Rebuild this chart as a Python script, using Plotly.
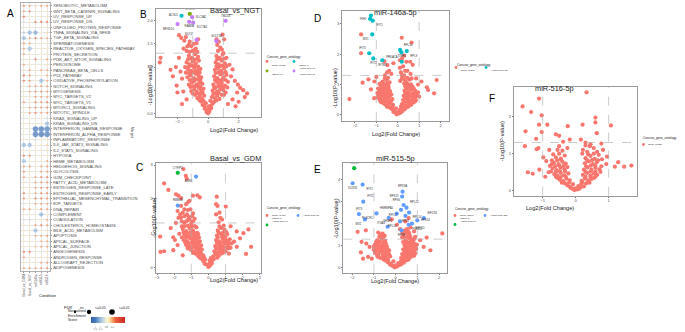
import plotly.graph_objects as go

W, H = 685, 332
FONT = "Liberation Sans, Arial, sans-serif"

# ---------------- Panel A : GSEA hallmark dot plot ----------------
pathways = [
    "XENOBIOTIC_METABOLISM", "WNT_BETA_CATENIN_SIGNALING", "UV_RESPONSE_UP", "UV_RESPONSE_DN",
    "UNFOLDED_PROTEIN_RESPONSE", "TNFA_SIGNALING_VIA_NFKB", "TGF_BETA_SIGNALING", "SPERMATOGENESIS",
    "REACTIVE_OXYGEN_SPECIES_PATHWAY", "PROTEIN_SECRETION", "PI3K_AKT_MTOR_SIGNALING", "PEROXISOME",
    "PANCREAS_BETA_CELLS", "P53_PATHWAY", "OXIDATIVE_PHOSPHORYLATION", "NOTCH_SIGNALING", "MYOGENESIS",
    "MYC_TARGETS_V2", "MYC_TARGETS_V1", "MTORC1_SIGNALING", "MITOTIC_SPINDLE", "KRAS_SIGNALING_UP",
    "KRAS_SIGNALING_DN", "INTERFERON_GAMMA_RESPONSE", "INTERFERON_ALPHA_RESPONSE", "INFLAMMATORY_RESPONSE",
    "IL6_JAK_STAT3_SIGNALING", "IL2_STAT5_SIGNALING", "HYPOXIA", "HEME_METABOLISM", "HEDGEHOG_SIGNALING",
    "GLYCOLYSIS", "G2M_CHECKPOINT", "FATTY_ACID_METABOLISM", "ESTROGEN_RESPONSE_LATE",
    "ESTROGEN_RESPONSE_EARLY", "EPITHELIAL_MESENCHYMAL_TRANSITION", "E2F_TARGETS", "DNA_REPAIR",
    "COMPLEMENT", "COAGULATION", "CHOLESTEROL_HOMEOSTASIS", "BILE_ACID_METABOLISM", "APOPTOSIS",
    "APICAL_SURFACE", "APICAL_JUNCTION", "ANGIOGENESIS", "ANDROGEN_RESPONSE", "ALLOGRAFT_REJECTION",
    "ADIPOGENESIS",
]
conditions = ["Basal_vs_GDM", "Basal_vs_NGT", "miR146a", "miR515", "miR516"]
nes = [
    [1.2, 1.0, 0.5, 1.1, 1.0], [1.1, 1.4, 0.2, 0.1, 0.3], [1.5, 0.1, 0.2, 0.3, 0.2],
    [-0.4, 0.2, 1.4, 1.5, 1.4], [0.2, 0.1, -0.3, 0.2, 0.3], [-1.0, -1.3, -1.5, 0.1, 0.6],
    [-1.2, 1.0, 1.4, 1.1, 1.0], [1.1, 1.0, 0.2, 0.1, 0.3], [1.0, -1.1, 0.1, 0.3, 0.2],
    [1.0, 0.2, 0.1, 0.2, 0.3], [0.3, 0.2, 1.4, 0.3, 1.0], [1.0, 0.3, 0.2, 0.1, 0.4],
    [0.3, 1.0, 0.2, 1.0, 0.9], [1.4, 1.1, 0.3, 0.2, 0.9], [1.4, 1.2, 0.2, -1.2, 1.0],
    [0.2, 1.0, 1.1, 1.1, 1.0], [0.3, 1.0, 1.3, 1.3, 1.1], [0.2, 0.3, 1.1, 1.0, 1.0],
    [1.0, 0.3, 1.3, 1.1, 1.3], [0.3, 1.0, 1.3, 1.1, 1.3], [0.2, 1.1, 1.3, 1.0, 1.1],
    [-0.3, 0.1, 0.2, 0.2, -0.6], [0.2, 0.3, 0.1, 0.3, -1.2], [0.1, -0.2, -2.1, -2.2, -2.0],
    [0.1, -0.2, -2.2, -2.3, -2.1], [0.2, 0.1, -0.4, 0.2, 0.3], [-1.2, -1.2, 0.2, 0.2, 0.6],
    [0.2, 0.1, 0.1, 0.3, 0.4], [1.4, 1.3, 0.2, 0.1, 0.3], [-1.1, 0.2, 0.1, 0.3, 1.0],
    [1.0, 1.1, 0.3, 1.0, 1.1], [1.1, 0.3, 0.2, 1.0, 1.0], [1.0, 0.3, 1.0, 1.3, 1.3],
    [0.3, 0.2, 1.0, 1.1, 1.1], [0.3, 0.2, 1.1, 1.3, 1.3], [1.3, 0.3, 1.0, 1.3, 1.2],
    [1.1, 0.2, 1.3, 1.3, 1.1], [-0.3, 0.2, 1.0, 1.1, 1.0], [1.0, 1.0, 0.3, 1.1, 1.0],
    [0.2, 0.1, 0.2, -1.3, 0.3], [-0.4, -0.5, 0.2, 0.2, 0.9], [0.3, 0.2, 1.0, 1.3, 1.0],
    [0.2, 0.3, -1.2, 0.2, 0.3], [0.3, 0.2, 1.0, 1.0, 1.2], [0.2, 0.3, 0.2, 0.9, 1.0],
    [0.3, 0.2, 0.7, 1.0, 1.0], [1.4, 1.4, 0.2, -0.2, 0.3], [1.0, 0.3, 0.2, 0.3, 0.4],
    [0.2, 0.2, 0.3, 1.0, 1.1], [1.0, 1.0, 1.0, 1.1, 1.2],
]
# 0 = ns, 1 = <=0.05, 2 = <=0.01
fdr = [[0] * 5 for _ in range(50)]
fdr_sig = {
    "TNFA_SIGNALING_VIA_NFKB": [0, 1, 1, 0, 0], "TGF_BETA_SIGNALING": [1, 0, 0, 0, 0],
    "REACTIVE_OXYGEN_SPECIES_PATHWAY": [0, 1, 0, 0, 0], "OXIDATIVE_PHOSPHORYLATION": [0, 0, 0, 1, 0],
    "KRAS_SIGNALING_DN": [0, 0, 0, 0, 1], "INTERFERON_GAMMA_RESPONSE": [0, 0, 2, 2, 2],
    "INTERFERON_ALPHA_RESPONSE": [0, 0, 2, 2, 2], "IL6_JAK_STAT3_SIGNALING": [1, 1, 0, 0, 0],
    "HEME_METABOLISM": [1, 0, 0, 0, 0], "COMPLEMENT": [0, 0, 0, 1, 0], "BILE_ACID_METABOLISM": [0, 0, 1, 0, 0],
}
for name, row in fdr_sig.items():
    fdr[pathways.index(name)] = row
fdr_labels = ["ns", "&lt;=0.05", "&lt;=0.01"]
nes_ticks = [-2, -1, 0, 1]

# ---------------- Volcano data ----------------
p_cut = 1.3      # -log10(0.05)
fc_cut = 1.0

b_none = [
    (-3.1, 1.2), (-3.15, 1.1), (-2.45, 0.94), (-2.05, 0.6), (-1.62, 0.47), (-1.9, 1.69), (-1.75, 1.63),
    (-1.55, 1.57), (-1.45, 1.65), (-1.2, 1.55), (-1.35, 1.45), (-1.6, 1.4), (-1.1, 1.45), (-1.0, 1.35),
    (-1.9, 1.2), (-2.1, 1.0), (-2.3, 0.8), (-1.8, 0.9), (-1.7, 0.75), (-2.0, 0.45), (-1.4, 0.3), (-1.7, 0.2),
    (-0.8, 1.4), (-0.65, 1.6), (0.55, 1.6), (0.7, 1.55), (0.95, 1.7), (1.05, 1.6), (0.8, 1.42), (1.0, 1.3),
    (1.2, 1.2), (1.4, 1.05), (1.6, 0.95), (1.5, 0.8), (1.75, 0.7), (1.95, 0.62), (2.1, 0.55), (2.3, 0.5),
    (2.55, 0.43), (2.4, 0.35), (1.9, 0.45), (1.6, 0.3), (2.0, 0.25), (1.3, 0.2), (1.8, 0.15),
    (-0.1, 0.03), (0.0, 0.0), (0.08, 0.04), (-0.05, 0.08), (0.12, 0.09), (-0.22, 0.1), (0.2, 0.11),
    (-0.35, 0.18), (-0.22, 0.15), (-0.15, 0.22), (0.18, 0.16), (0.3, 0.21), (0.4, 0.25), (-0.45, 0.25), (0.05, 0.15),
    (-0.55, 0.28), (-0.3, 0.27), (0.15, 0.27), (0.55, 0.28),
    (-0.7, 0.33), (-0.55, 0.36), (-0.4, 0.32), (-0.25, 0.38), (0.25, 0.35), (0.45, 0.33), (0.6, 0.38), (0.75, 0.31),
    (-0.85, 0.4), (0.9, 0.4), (-1.0, 0.43), (-0.65, 0.43), (-0.5, 0.42), (-0.35, 0.44), (0.35, 0.42), (0.5, 0.43),
    (0.7, 0.44), (1.05, 0.4),
    (-1.1, 0.48), (-0.9, 0.52), (-0.75, 0.47), (-0.6, 0.55), (-0.45, 0.5), (-0.3, 0.53), (0.3, 0.49), (0.45, 0.54),
    (0.6, 0.47), (0.8, 0.52), (1.0, 0.5), (1.15, 0.45),
    (-1.15, 0.57), (-0.95, 0.58), (-0.82, 0.59), (-0.65, 0.6), (-0.5, 0.58), (0.4, 0.57), (0.65, 0.58), (0.85, 0.59),
    (1.0, 0.57), (1.25, 0.56),
    (-1.25, 0.62), (-1.05, 0.66), (-0.9, 0.7), (-0.75, 0.62), (-0.55, 0.67), (-0.38, 0.64), (0.35, 0.62), (0.55, 0.68),
    (0.7, 0.63), (0.9, 0.66), (1.1, 0.6), (1.3, 0.68),
    (-1.2, 0.72), (-1.0, 0.73), (-0.85, 0.74), (-0.65, 0.73), (-0.5, 0.72), (0.45, 0.72), (0.65, 0.73), (0.8, 0.71),
    (0.95, 0.73), (1.15, 0.72),
    (-1.35, 0.78), (-1.15, 0.82), (-0.95, 0.76), (-0.8, 0.85), (-0.6, 0.8), (-0.45, 0.78), (0.4, 0.8), (0.6, 0.76),
    (0.8, 0.84), (1.0, 0.78), (1.2, 0.83),
    (-1.45, 0.88), (-1.25, 0.87), (-1.05, 0.88), (-0.85, 0.9), (-0.65, 0.87), (-0.55, 0.88), (0.5, 0.87), (0.7, 0.89),
    (0.95, 0.87), (1.15, 0.89),
    (-1.3, 0.95), (-1.1, 0.92), (-0.9, 0.98), (-0.7, 0.93), (-0.5, 0.96), (0.45, 0.94), (0.65, 0.98), (0.85, 0.92),
    (1.05, 0.97),
    (-1.5, 1.0), (-1.25, 1.01), (-1.05, 1.03), (-0.85, 1.02), (-0.65, 1.01), (0.55, 1.02), (0.75, 1.01), (0.95, 1.03),
    (1.2, 1.02),
    (-1.4, 1.1), (-1.2, 1.06), (-1.0, 1.12), (-0.8, 1.08), (-0.6, 1.14), (0.5, 1.1), (0.7, 1.06), (0.9, 1.14), (1.1, 1.08),
    (-1.3, 1.17), (-1.1, 1.18), (-0.9, 1.16), (-0.7, 1.18), (0.6, 1.17), (0.85, 1.16), (1.05, 1.18),
    (-1.25, 1.25), (-1.05, 1.2), (-0.85, 1.28), (-0.65, 1.22), (0.55, 1.24), (0.75, 1.2), (0.95, 1.27),
    (-1.4, 1.35), (-1.2, 1.33), (-0.9, 1.37), (-0.7, 1.33), (0.65, 1.35), (0.9, 1.38),
    (-1.25, 1.48), (-0.95, 1.5), (-0.75, 1.52), (0.6, 1.48),
]
b_genes = ["UHMK1", "ACSL5", "SLC3A2", "MFSD10", "RAB8A", "SLC7A5", "TM2D3", "NQO2", "GOLT1B"]
b_x = [-1.19, -1.73, -1.04, -1.99, -1.23, -0.97, 1.15, -0.75, 0.55]
b_y = [2.15, 2.11, 2.08, 1.93, 1.98, 1.96, 2.0, 1.59, 1.56]
b_group = ["Insulin", "Insulin & Amino acid"] + ["Amino acid"] * 7
b_counts = {"None": 1423, "Insulin & Amino acid": 1, "Insulin": 1, "Amino acid": 7}

c_none = [
    (-1.46, 2.88), (-2.59, 2.46), (-2.34, 2.27), (-1.32, 2.68), (-1.26, 2.6), (-1.89, 2.14), (-1.75, 2.1),
    (-1.6, 2.03), (-1.17, 1.92), (-0.64, 2.11), (-0.5, 2.05), (0.49, 2.07), (0.45, 1.85), (0.54, 1.8),
    (1.02, 1.78), (2.34, 1.11), (1.66, 1.05), (2.05, 1.0), (1.85, 0.85), (2.2, 0.39), (1.66, 0.6),
    (-2.82, 0.9), (-2.8, 0.45), (-2.59, 0.47), (-2.05, 0.5), (-1.95, 0.8), (-2.05, 0.88), (-1.7, 0.98),
    (-1.55, 1.2), (-1.9, 1.3), (-2.2, 1.15), (-1.75, 1.45), (-1.1, 1.95), (-0.9, 2.1), (1.3, 1.2), (1.5, 0.75),
    (1.2, 0.4), (-1.5, 0.35), (-1.8, 0.65), (2.5, 0.6),
    (0.0, 0.01), (0.1, 0.05), (-0.12, 0.08), (0.05, 0.1), (-0.22, 0.1), (0.2, 0.11),
    (-0.3, 0.18), (-0.18, 0.22), (0.2, 0.17), (0.32, 0.24), (-0.42, 0.25), (0.08, 0.2),
    (-0.5, 0.28), (0.15, 0.27), (0.52, 0.28), (-0.25, 0.28),
    (-0.6, 0.33), (-0.45, 0.38), (-0.3, 0.35), (0.28, 0.32), (0.45, 0.38), (0.6, 0.33), (-0.75, 0.4), (0.75, 0.4),
    (-0.9, 0.42), (-0.6, 0.43), (-0.45, 0.44), (0.4, 0.42), (0.55, 0.43), (0.85, 0.42),
    (-1.0, 0.5), (-0.85, 0.46), (-0.7, 0.53), (-0.55, 0.48), (-0.38, 0.52), (0.35, 0.47), (0.5, 0.54), (0.68, 0.49),
    (0.85, 0.53), (1.0, 0.47), (-1.2, 0.55), (1.15, 0.55),
    (-1.2, 0.58), (-1.0, 0.57), (-0.8, 0.59), (-0.65, 0.6), (-0.5, 0.58), (0.45, 0.57), (0.65, 0.58), (0.85, 0.6),
    (1.05, 0.58), (1.3, 0.57),
    (-1.3, 0.65), (-1.1, 0.62), (-0.92, 0.68), (-0.75, 0.63), (-0.58, 0.7), (-0.42, 0.64), (0.4, 0.62), (0.58, 0.68),
    (0.75, 0.63), (0.95, 0.69), (1.15, 0.64), (1.35, 0.7),
    (-1.35, 0.72), (-1.15, 0.71), (-0.95, 0.74), (-0.78, 0.72), (-0.6, 0.73), (0.5, 0.72), (0.7, 0.71), (0.9, 0.74),
    (1.15, 0.72),
    (-1.45, 0.8), (-1.25, 0.77), (-1.05, 0.84), (-0.88, 0.78), (-0.7, 0.82), (-0.5, 0.76), (0.45, 0.8), (0.65, 0.76),
    (0.85, 0.83), (1.05, 0.78), (1.25, 0.82),
    (-1.55, 0.88), (-1.3, 0.87), (-1.1, 0.89), (-0.9, 0.87), (-0.72, 0.88), (-0.55, 0.87), (0.55, 0.87), (0.8, 0.89),
    (1.0, 0.87),
    (-1.4, 0.95), (-1.2, 0.92), (-1.0, 0.98), (-0.8, 0.93), (-0.6, 0.97), (0.5, 0.93), (0.7, 0.98), (0.9, 0.92), (1.1, 0.97),
    (-1.45, 1.02), (-1.25, 1.01), (-1.05, 1.03), (-0.85, 1.02), (-0.65, 1.01), (0.6, 1.02), (0.85, 1.01), (1.05, 1.03),
    (-1.5, 1.12), (-1.3, 1.06), (-1.1, 1.15), (-0.9, 1.08), (-0.7, 1.17), (0.55, 1.08), (0.75, 1.15), (0.95, 1.1),
    (-1.4, 1.2), (-1.2, 1.22), (-1.0, 1.19), (-0.8, 1.21), (0.65, 1.2), (0.9, 1.22),
    (-1.4, 1.3), (-1.2, 1.38), (-1.0, 1.28), (-0.8, 1.42), (0.6, 1.32), (0.8, 1.4), (-1.6, 1.45),
    (-1.55, 1.35), (-1.3, 1.35), (-1.1, 1.4), (-0.9, 1.35), (0.7, 1.45),
    (-1.4, 1.5), (-1.15, 1.48), (-0.95, 1.5), (-1.65, 1.55),
    (-1.5, 1.6), (-1.25, 1.55), (-1.05, 1.7), (-0.9, 1.58), (-1.8, 1.65), (0.65, 1.6), (0.45, 1.55),
    (-1.4, 1.7), (-1.2, 1.68), (-1.6, 1.8), (-1.3, 1.85),
]
c_genes = ["CYFIP2", "ASNS", "RBM4B"]
c_x = [-1.79, -0.72, -1.79]
c_y = [2.77, 2.66, 1.81]
c_group = ["Insulin & Amino acid", "Amino acid", "Amino acid"]
c_counts = {"None": 1429, "Amino acid": 2, "Insulin & Amino acid": 1}

d_none = [
    (-1.71, 2.65), (-1.71, 2.03), (0.19, 2.54), (0.65, 2.38), (-0.48, 1.64), (-0.2, 1.7), (0.58, 1.75),
    (0.7, 1.65), (-1.37, 1.17), (-1.64, 1.06), (-1.09, 1.1), (-1.25, 0.84), (-2.26, 0.52), (1.82, 1.15),
    (1.36, 0.91), (1.42, 0.82), (1.7, 0.71), (1.11, 1.1), (0.86, 1.2), (0.95, 1.0), (-0.75, 0.88), (-0.9, 0.72),
    (-0.75, 1.05), (0.2, 1.85), (0.3, 1.95), (0.1, 1.8), (-0.62, 1.76), (-1.0, 1.25), (1.0, 0.6), (-1.1, 0.55),
    (0.4, 1.75), (-0.4, 1.45),
    (-0.05, 0.02), (0.05, 0.05), (0.0, 0.09), (-0.12, 0.08), (0.12, 0.07), (-0.2, 0.1), (0.2, 0.11),
    (-0.3, 0.2), (-0.18, 0.15), (-0.08, 0.22), (0.1, 0.17), (0.22, 0.23), (0.32, 0.18), (-0.4, 0.25), (0.42, 0.25),
    (-0.5, 0.27), (0.15, 0.28), (0.5, 0.28), (-0.25, 0.27),
    (-0.6, 0.35), (-0.48, 0.31), (-0.35, 0.38), (-0.22, 0.33), (0.2, 0.36), (0.35, 0.31), (0.5, 0.38), (0.62, 0.33),
    (-0.72, 0.4), (0.72, 0.4),
    (-0.8, 0.43), (-0.6, 0.43), (-0.45, 0.42), (-0.32, 0.44), (0.3, 0.42), (0.45, 0.43), (0.6, 0.42), (0.8, 0.44),
    (-0.85, 0.5), (-0.7, 0.47), (-0.55, 0.53), (-0.4, 0.48), (-0.25, 0.52), (0.25, 0.49), (0.4, 0.54), (0.55, 0.47),
    (0.7, 0.52), (0.85, 0.48),
    (-0.95, 0.58), (-0.8, 0.57), (-0.65, 0.59), (-0.5, 0.58), (-0.38, 0.6), (0.35, 0.57), (0.5, 0.58), (0.68, 0.59),
    (0.82, 0.58),
    (-0.9, 0.65), (-0.75, 0.62), (-0.6, 0.68), (-0.45, 0.63), (-0.3, 0.67), (0.28, 0.63), (0.45, 0.68), (0.6, 0.62),
    (0.75, 0.67), (0.9, 0.64),
    (-0.95, 0.72), (-0.8, 0.73), (-0.65, 0.72), (-0.5, 0.74), (-0.38, 0.72), (0.35, 0.72), (0.5, 0.73), (0.68, 0.71),
    (0.82, 0.73), (0.95, 0.74),
    (-0.85, 0.8), (-0.68, 0.77), (-0.52, 0.83), (-0.36, 0.78), (0.32, 0.8), (0.5, 0.76), (0.65, 0.83), (0.82, 0.79),
    (-0.92, 0.87), (-0.72, 0.88), (-0.58, 0.87), (-0.42, 0.89), (0.42, 0.87), (0.58, 0.88), (0.75, 0.87),
    (-0.78, 0.95), (-0.6, 0.92), (-0.45, 0.98), (0.35, 0.94), (0.52, 0.97), (0.7, 0.92),
    (-0.85, 1.02), (-0.65, 1.01), (-0.5, 1.03), (0.45, 1.02), (0.62, 1.01), (0.3, 1.03),
    (-0.7, 1.1), (-0.52, 1.15), (-0.38, 1.07), (0.38, 1.1), (0.55, 1.16), (0.12, 1.12), (0.2, 1.2),
    (-0.6, 1.2), (-0.45, 1.22), (0.3, 1.17), (0.45, 1.22), (0.65, 1.2),
    (-0.6, 1.3), (-0.3, 1.35), (0.15, 1.4), (0.3, 1.3), (0.45, 1.45), (0.6, 1.35), (0.1, 1.55), (0.25, 1.6),
    (-0.5, 1.4), (0.35, 1.45), (0.2, 1.3),
]
d_genes = ["ISG15", "IFIH1", "IFIT1", "MX1", "IFIT3", "IFIT2", "IFITM1", "RPL10", "PRKACA", "RPL9", "TIMP1"]
d_x = [-1.25, -1.29, -1.17, -1.19, -1.33, -1.14, -0.72, 0.11, 0.17, 0.42, 0.19]
d_y = [3.27, 3.16, 3.1, 2.65, 2.03, 1.86, 1.8, 2.14, 2.06, 2.1, 1.75]
d_group = ["Amino acid"] * 11
d_counts = {"None": 1321, "Amino acid": 11}

e_none = [
    (-1.75, 1.63), (-1.37, 1.7), (-1.57, 1.18), (-1.5, 0.42), (-1.27, 0.5), (-1.1, 0.42), (-0.99, 0.8),
    (-1.2, 0.95), (-1.35, 1.1), (-0.87, 1.15), (-0.62, 1.45), (-0.18, 2.19), (0.06, 1.95), (-0.26, 2.2),
    (2.15, 1.56), (1.43, 1.37), (1.13, 1.25), (1.29, 0.95), (0.98, 1.05), (0.85, 1.65), (0.68, 1.83),
    (0.52, 1.75), (0.2, 1.75), (0.6, 2.25), (0.45, 2.1), (0.9, 1.4), (-0.8, 1.6), (1.6, 0.8), (-1.6, 0.7),
    (-0.05, 0.03), (0.05, 0.06), (0.0, 0.12), (-0.15, 0.1), (0.15, 0.12), (-0.25, 0.15), (0.25, 0.16),
    (-0.35, 0.25), (-0.22, 0.2), (-0.1, 0.3), (0.12, 0.22), (0.25, 0.3), (0.38, 0.24), (-0.45, 0.33), (0.5, 0.35),
    (-0.55, 0.38), (-0.35, 0.37), (0.35, 0.38), (0.6, 0.38),
    (-0.7, 0.45), (-0.55, 0.5), (-0.4, 0.43), (-0.25, 0.52), (0.25, 0.45), (0.4, 0.52), (0.55, 0.44), (0.7, 0.5),
    (-0.85, 0.55), (0.85, 0.55), (-0.8, 0.5),
    (-0.6, 0.58), (-0.45, 0.57), (-0.3, 0.6), (0.35, 0.58), (0.5, 0.57), (0.65, 0.59), (0.8, 0.6),
    (-0.95, 0.68), (-0.8, 0.62), (-0.65, 0.72), (-0.5, 0.64), (-0.35, 0.7), (0.3, 0.63), (0.45, 0.7), (0.6, 0.65),
    (0.75, 0.72), (0.9, 0.66),
    (-0.9, 0.77), (-0.75, 0.76), (-0.6, 0.78), (-0.45, 0.77), (-0.3, 0.79), (0.4, 0.77), (0.55, 0.76), (0.7, 0.78),
    (0.85, 0.77),
    (-1.0, 0.85), (-0.85, 0.9), (-0.7, 0.83), (-0.55, 0.92), (-0.4, 0.86), (0.35, 0.84), (0.5, 0.9), (0.65, 0.83),
    (0.8, 0.92), (0.95, 0.86),
    (-1.0, 0.97), (-0.85, 0.96), (-0.7, 0.97), (-0.55, 0.98), (-0.4, 0.97), (0.45, 0.96), (0.6, 0.97), (0.75, 0.98),
    (0.9, 0.96),
    (-0.95, 1.05), (-0.8, 1.12), (-0.62, 1.03), (-0.45, 1.1), (0.4, 1.05), (0.55, 1.12), (0.7, 1.04), (0.85, 1.1),
    (-0.9, 1.17), (-0.72, 1.18), (-0.55, 1.17), (0.5, 1.18), (0.65, 1.17), (0.8, 1.16), (0.35, 1.17),
    (-0.85, 1.25), (-0.65, 1.32), (-0.48, 1.22), (0.45, 1.25), (0.6, 1.35), (0.75, 1.22), (0.3, 1.38),
    (-0.75, 1.4), (-0.58, 1.38), (0.4, 1.38), (0.55, 1.42), (0.7, 1.35), (0.85, 1.3),
    (-0.7, 1.5), (-0.5, 1.45), (0.35, 1.5), (0.5, 1.58), (0.65, 1.48), (0.4, 1.68), (0.55, 1.7),
    (-0.6, 1.55), (0.45, 1.6), (0.62, 1.58), (0.3, 1.62),
]
e_genes = ["ISG15", "DDX58", "IFIT1", "IFIT2", "IFIT3", "MX1", "PLSCR1", "ITGA4", "SRSF1", "RPS3A", "RPS25",
           "RPS6", "RPL22", "RPL17", "RPL14", "HNRNPA1", "RPL8", "RPS14", "EIF2S3", "EEF1D", "RPL10", "PSMD4",
           "RPS8"]
e_x = [-1.91, -1.98, -1.52, -1.49, -1.69, -1.41, -0.88, -0.32, -0.37, 0.32, 0.30, 0.37, 0.50, 0.25, 0.62,
       0.05, 0.45, 1.0, 1.3, 0.75, 0.2, 0.6, 0.27]
e_y = [4.5, 3.82, 3.76, 2.99, 2.43, 2.19, 2.46, 2.26, 1.86, 3.44, 3.22, 2.84, 2.72, 2.62, 2.5, 2.45, 2.35,
       2.15, 2.25, 2.0, 2.1, 1.95, 1.7]
e_group = ["Insulin & Amino acid"] + ["Amino acid"] * 22
e_counts = {"None": 1209, "Amino acid": 22, "Insulin & Amino acid": 1}

f_none = [
    (0.33, 2.65), (-1.61, 2.27), (-1.11, 2.48), (-1.35, 2.12), (-1.03, 2.03), (-1.11, 1.78), (-0.86, 1.78),
    (-1.03, 1.58), (-1.52, 1.6), (-1.2, 1.4), (-1.54, 1.2), (-1.13, 1.15), (-1.18, 1.12), (-0.6, 1.52),
    (-0.5, 1.48), (-0.24, 1.74), (0.21, 1.78), (0.6, 1.97), (0.6, 1.84), (0.64, 1.55), (1.07, 1.76),
    (0.16, 1.38), (0.3, 1.3), (0.43, 1.2), (0.78, 1.27), (0.95, 0.92), (1.19, 0.65), (1.29, 0.77),
    (1.47, 0.65), (1.69, 0.68), (0.93, 0.72), (0.83, 1.1), (-1.45, 0.5), (-1.3, 0.46), (-1.1, 0.57),
    (-0.92, 0.38), (-0.82, 0.5), (-0.89, 0.8), (-0.72, 0.72), (-0.98, 0.9), (-0.55, 1.1), (-0.8, 1.1),
    (-0.38, 1.32), (-0.18, 1.38),
    (-0.04, 0.02), (0.04, 0.04), (0.0, 0.07), (-0.1, 0.06), (0.1, 0.05), (-0.15, 0.08), (0.15, 0.09),
    (-0.25, 0.15), (-0.17, 0.11), (-0.08, 0.18), (0.08, 0.13), (0.17, 0.19), (0.25, 0.12), (-0.32, 0.2), (0.32, 0.2),
    (-0.42, 0.22), (-0.2, 0.22), (0.2, 0.23), (0.42, 0.22),
    (-0.48, 0.3), (-0.38, 0.26), (-0.28, 0.33), (-0.18, 0.28), (0.18, 0.27), (0.28, 0.33), (0.38, 0.28), (0.48, 0.32),
    (-0.56, 0.35), (0.56, 0.35),
    (-0.6, 0.38), (-0.45, 0.37), (-0.3, 0.38), (0.3, 0.38), (0.45, 0.37), (0.6, 0.38),
    (-0.65, 0.45), (-0.55, 0.41), (-0.45, 0.48), (-0.35, 0.42), (-0.22, 0.47), (0.22, 0.43), (0.35, 0.48), (0.45, 0.41),
    (0.55, 0.47), (0.65, 0.43),
    (-0.75, 0.52), (-0.6, 0.51), (-0.48, 0.53), (-0.32, 0.52), (0.3, 0.51), (0.45, 0.52), (0.6, 0.52), (0.75, 0.51),
    (-0.7, 0.6), (-0.58, 0.56), (-0.46, 0.63), (-0.34, 0.58), (-0.25, 0.64), (0.25, 0.57), (0.36, 0.63), (0.48, 0.57),
    (0.6, 0.62), (0.72, 0.58),
    (-0.78, 0.67), (-0.62, 0.66), (-0.5, 0.68), (-0.36, 0.67), (0.32, 0.66), (0.46, 0.68), (0.6, 0.67), (0.78, 0.66),
    (-0.66, 0.75), (-0.52, 0.72), (-0.4, 0.78), (-0.3, 0.73), (0.28, 0.74), (0.4, 0.79), (0.52, 0.72), (0.64, 0.77),
    (-0.72, 0.82), (-0.56, 0.82), (-0.44, 0.83), (0.35, 0.82), (0.5, 0.83), (0.68, 0.82), (0.8, 0.85),
    (-0.6, 0.9), (-0.45, 0.87), (-0.33, 0.95), (0.3, 0.88), (0.45, 0.94), (0.58, 0.86), (0.7, 0.97), (0.2, 1.0),
    (-0.68, 0.98), (-0.5, 1.0), (0.38, 0.98), (0.55, 1.0), (0.65, 1.05),
    (-0.4, 1.08), (-0.25, 1.15), (0.22, 1.1), (0.35, 1.05), (0.55, 1.15),
    (-0.5, 1.2), (0.3, 1.22), (0.45, 1.25),
]
f_counts = {"None": 1332}

# ---------------- styles / layout ----------------
def px(x):
    return x / W


def py(y):
    return 1 - y / H


RED = "#F8766D"
AXIS_COL = "#4d4d4d"
PT = 4.2
fig = go.Figure()
annotations = []
shapes = []

# ----- Panel A -----
size_map = [2.3, 4.3, 5.6]
ax_x, ax_y, ax_c, ax_s = [], [], [], []
for i, pw in enumerate(pathways):
    for j, cond in enumerate(conditions):
        ax_x.append(cond)
        ax_y.append(pw)
        ax_c.append(nes[i][j])
        ax_s.append(size_map[fdr[i][j]])

nes_scale = [
    [0.0, "#2f5fa7"], [0.133, "#4a7cbc"], [0.3, "#a6c6e4"], [0.467, "#fbf8d2"],
    [0.55, "#fde0a8"], [0.633, "#f7a066"], [0.717, "#ec6240"], [1.0, "#c8231f"],
]
fig.add_trace(go.Scatter(
    x=ax_x, y=ax_y, mode="markers", xaxis="x", yaxis="y", hoverinfo="skip",
    marker=dict(size=ax_s, color=ax_c, colorscale=nes_scale, cmin=-2.8, cmax=3.2, line=dict(width=0),
                showscale=True,
                colorbar=dict(orientation="h", x=px(108), xanchor="center", y=py(322), yanchor="middle",
                              len=34, lenmode="pixels", thickness=5.5, thicknessmode="pixels",
                              xpad=0, ypad=0, outlinewidth=0, tickvals=nes_ticks, ticks="",
                              tickfont=dict(size=3.6, color=AXIS_COL, family=FONT))),
    showlegend=False))

layout_axes = dict(
    xaxis=dict(domain=[px(21), px(50)], type="category", categoryorder="array", categoryarray=conditions,
               range=[-0.5, 4.5], anchor="y", tickangle=-90, tickfont=dict(size=3.2, color=AXIS_COL, family=FONT),
               showgrid=True, gridcolor="#e6e6e6", gridwidth=0.6, showline=True, mirror=True,
               linecolor="#b0b0b0", linewidth=0.8, ticks="outside", ticklen=1.5, tickcolor="#999", automargin=False,
               zeroline=False),
    yaxis=dict(domain=[py(270.7), py(3.3)], type="category", categoryorder="array", categoryarray=pathways,
               range=[49.5, -0.5], anchor="x", side="right", tickfont=dict(size=4.1, color=AXIS_COL, family=FONT),
               showgrid=True, gridcolor="#e6e6e6", gridwidth=0.6, showline=True, mirror=True,
               linecolor="#b0b0b0", linewidth=0.8, ticks="outside", ticklen=1.5, tickcolor="#999", automargin=False,
               zeroline=False),
)

annotations.append(dict(text="Condition", x=px(37), y=py(300), xref="paper", yref="paper", showarrow=False,
                        font=dict(size=4, color="#222", family=FONT)))
annotations.append(dict(text="Merged", x=px(128), y=py(132), xref="paper", yref="paper", showarrow=False,
                        textangle=90, font=dict(size=3.3, color="#222", family=FONT)))
# FDR legend
annotations.append(dict(text="FDR", x=px(62), y=py(312), xref="paper", yref="paper", showarrow=False,
                        xanchor="left", font=dict(size=4, color="#222", family=FONT)))
fdr_key_x = [75, 89, 112]
fdr_txt_x = [78, 93, 117]
for k in range(3):
    r = size_map[k] / 2
    shapes.append(dict(type="circle", xref="paper", yref="paper", x0=px(fdr_key_x[k] - r), x1=px(fdr_key_x[k] + r),
                       y0=py(312 + r), y1=py(312 - r), fillcolor="black", line=dict(width=0)))
    annotations.append(dict(text=fdr_labels[k], x=px(fdr_txt_x[k]), y=py(312), xref="paper", yref="paper",
                            showarrow=False, xanchor="left", font=dict(size=3.4, color="#222", family=FONT)))
annotations.append(dict(text="Normalised<br>Enrichment<br>Score", x=px(88), y=py(324), xref="paper", yref="paper",
                        showarrow=False, xanchor="right", align="left",
                        font=dict(size=3.5, color="#222", family=FONT)))

# ----- Volcano panels -----
panels = [
    dict(letter="B", title="Basal_vs_NGT", ax=2, box=(155.7, 9.3, 260.7, 117.0), xr=(-3.42, 3.44), yr=(-0.08, 2.25),
         xt=[-2, 0, 2], yt=[0, 0.5, 1.0, 1.5, 2.0], yfmt=".1f", ytoff=10.5,
         none=b_none, genes=b_genes, gx=b_x, gy=b_y, grp=b_group, counts=b_counts,
         colors={"None": RED, "Insulin": "#7CAE00", "Insulin & Amino acid": "#00BFC4", "Amino acid": "#C77CFF"},
         tpos=["top center", "middle left", "middle right", "bottom left", "bottom center", "bottom right",
               "top center", "top left", "top center"],
         leg_title=(265, 53),
         leg=[("None", 267, 61.5), ("Insulin & Amino acid", 294, 61.5), ("Insulin", 267, 71), ("Amino acid", 294, 71)]),
    dict(letter="C", title="Basal_vs_GDM", ax=3, box=(155.7, 163.3, 260.7, 272.7), xr=(-3.08, 3.06), yr=(-0.16, 3.05),
         xt=[-3, -2, -1, 0, 1, 2, 3], yt=[0, 1, 2, 3], yfmt="d", ytoff=7,
         none=c_none, genes=c_genes, gx=c_x, gy=c_y, grp=c_group, counts=c_counts,
         colors={"None": RED, "Insulin & Amino acid": "#00BA38", "Amino acid": "#619CFF"},
         tpos=["top center", "bottom left", "top center"],
         leg_title=(265, 208),
         leg=[("None", 267, 215.5), ("Amino acid", 298, 215.5), ("Insulin & Amino acid", 267, 225)]),
    dict(letter="D", title="miR-146a-5p", ax=4, box=(342.3, 11.0, 449.3, 121.0), xr=(-2.59, 2.41), yr=(-0.2, 3.42),
         xt=[-2, -1, 0, 1, 2], yt=[0, 1, 2, 3], yfmt="d", ytoff=7,
         none=d_none, genes=d_genes, gx=d_x, gy=d_y, grp=d_group, counts=d_counts,
         colors={"None": RED, "Amino acid": "#00BFC4"},
         tpos=["top center", "middle left", "bottom right", "bottom left", "top left", "bottom center",
               "bottom center", "top right", "bottom left", "bottom right", "top center"],
         leg_title=(455, 61),
         leg=[("None", 456, 67.5), ("Amino acid", 486, 67.5)]),
    dict(letter="E", title="miR-515-5p", ax=5, box=(343.3, 163.3, 447.3, 273.3), xr=(-2.41, 2.38), yr=(-0.24, 4.72),
         xt=[-2, -1, 0, 1, 2], yt=[0, 1, 2, 3, 4], yfmt="d", ytoff=7,
         none=e_none, genes=e_genes, gx=e_x, gy=e_y, grp=e_group, counts=e_counts,
         colors={"None": RED, "Insulin & Amino acid": "#00BA38", "Amino acid": "#619CFF"},
         tpos=["top center", "bottom center", "bottom right", "top right", "top center", "bottom left",
               "bottom left", "bottom left", "top center", "top center", "middle left", "top left", "top right",
               "bottom left", "bottom right", "top left", "bottom center", "middle right", "top right",
               "bottom right", "bottom left", "bottom right", "bottom center"],
         leg_title=(453, 208.5),
         leg=[("None", 455, 215.5), ("Amino acid", 485, 215.5), ("Insulin & Amino acid", 455, 224.5)]),
    dict(letter="F", title="miR-516-5p", ax=6, box=(514.0, 86.7, 637.3, 195.7), xr=(-1.87, 1.87), yr=(-0.13, 2.8),
         xt=[-1, 0, 1], yt=[0, 1, 2], yfmt="d", ytoff=7,
         none=f_none, genes=[], gx=[], gy=[], grp=[], counts=f_counts,
         colors={"None": RED}, tpos=[],
         leg_title=(641, 138),
         leg=[("None", 643.5, 144.5)]),
]
letter_pos = {"A": (5, 6), "B": (138, 7), "C": (134, 167), "D": (317, 11), "E": (317, 169), "F": (497, 91)}
for L, (lx, ly) in letter_pos.items():
    annotations.append(dict(text=L, x=px(lx), y=py(ly), xref="paper", yref="paper", showarrow=False,
                            font=dict(size=10, color="black", family=FONT)))

for p in panels:
    n = p["ax"]
    xa, ya = f"x{n}", f"y{n}"
    l, t, r, b = p["box"]
    nx, ny = zip(*p["none"])
    fig.add_trace(go.Scatter(x=list(nx), y=list(ny), mode="markers", xaxis=xa, yaxis=ya, hoverinfo="skip",
                             marker=dict(size=PT, color=RED, line=dict(width=0)), showlegend=False))
    for g in p["colors"]:
        if g == "None":
            continue
        idx = [i for i, gg in enumerate(p["grp"]) if gg == g]
        if not idx:
            continue
        fig.add_trace(go.Scatter(
            x=[p["gx"][i] for i in idx], y=[p["gy"][i] for i in idx], text=[p["genes"][i] for i in idx],
            textposition=[p["tpos"][i] for i in idx], mode="markers+text", xaxis=xa, yaxis=ya, hoverinfo="skip",
            textfont=dict(size=2.8, color="#333", family=FONT),
            marker=dict(size=PT, color=p["colors"][g], line=dict(width=0)), showlegend=False))
    common = dict(showline=True, mirror=True, linecolor="#9a9a9a", linewidth=0.9, showgrid=False, zeroline=False,
                  ticks="outside", ticklen=1.2, tickcolor="#777", tickwidth=0.6, automargin=False,
                  tickfont=dict(size=4.0, color=AXIS_COL, family=FONT))
    layout_axes[f"xaxis{n}"] = dict(domain=[px(l), px(r)], range=list(p["xr"]), anchor=ya, tickvals=p["xt"],
                                    ticklabelstandoff=-1, **common)
    layout_axes[f"yaxis{n}"] = dict(domain=[py(b), py(t)], range=list(p["yr"]), anchor=xa, tickvals=p["yt"],
                                    tickformat=p["yfmt"], **common)
    # threshold lines
    for xv in (-fc_cut, fc_cut):
        shapes.append(dict(type="line", xref=xa, yref="paper", x0=xv, x1=xv, y0=py(b), y1=py(t),
                           line=dict(color="#a8a8a8", width=0.6, dash="dash")))
    shapes.append(dict(type="line", xref="paper", yref=ya, x0=px(l), x1=px(r), y0=p_cut, y1=p_cut,
                       line=dict(color="#a8a8a8", width=0.6, dash="dash")))
    cx = (l + r) / 2
    annotations.append(dict(text=p["title"], x=px(cx), y=py(t - 5.0), xref="paper", yref="paper", showarrow=False,
                            font=dict(size=7.4, color="#222", family=FONT)))
    annotations.append(dict(text="Log2(Fold Change)", x=px(cx), y=py(b + 12.5), xref="paper", yref="paper",
                            showarrow=False, font=dict(size=5.6, color="#222", family=FONT)))
    annotations.append(dict(text="-Log10(P-value)", x=px(l - p["ytoff"]), y=py((t + b) / 2), xref="paper",
                            yref="paper", showarrow=False, textangle=-90,
                            font=dict(size=5.6, color="#222", family=FONT)))
    # legend
    tx, ty = p["leg_title"]
    annotations.append(dict(text="Concise_gene_ontology", x=px(tx), y=py(ty), xref="paper", yref="paper",
                            showarrow=False, xanchor="left", font=dict(size=3.1, color="#222", family=FONT)))
    for g, kx, ky in p["leg"]:
        rr = 1.4
        shapes.append(dict(type="circle", xref="paper", yref="paper", x0=px(kx - rr), x1=px(kx + rr),
                           y0=py(ky + rr), y1=py(ky - rr), fillcolor=p["colors"][g], line=dict(width=0)))
        label = g.replace("Insulin & Amino acid", "Insulin &<br>Amino acid")
        label = f"{label} ({p['counts'][g]})"
        annotations.append(dict(text=label, x=px(kx + 2.8), y=py(ky), xref="paper", yref="paper",
                                showarrow=False, xanchor="left", align="left",
                                font=dict(size=2.5, color="#222", family=FONT)))

fig.update_layout(
    width=W, height=H, autosize=False, margin=dict(l=0, r=0, t=0, b=0),
    paper_bgcolor="white", plot_bgcolor="white", showlegend=False,
    font=dict(family=FONT), annotations=annotations, shapes=shapes, **layout_axes,
)
fig.write_html("out.html", config={"displayModeBar": False},
               post_script="document.body.style.margin='0px';")
